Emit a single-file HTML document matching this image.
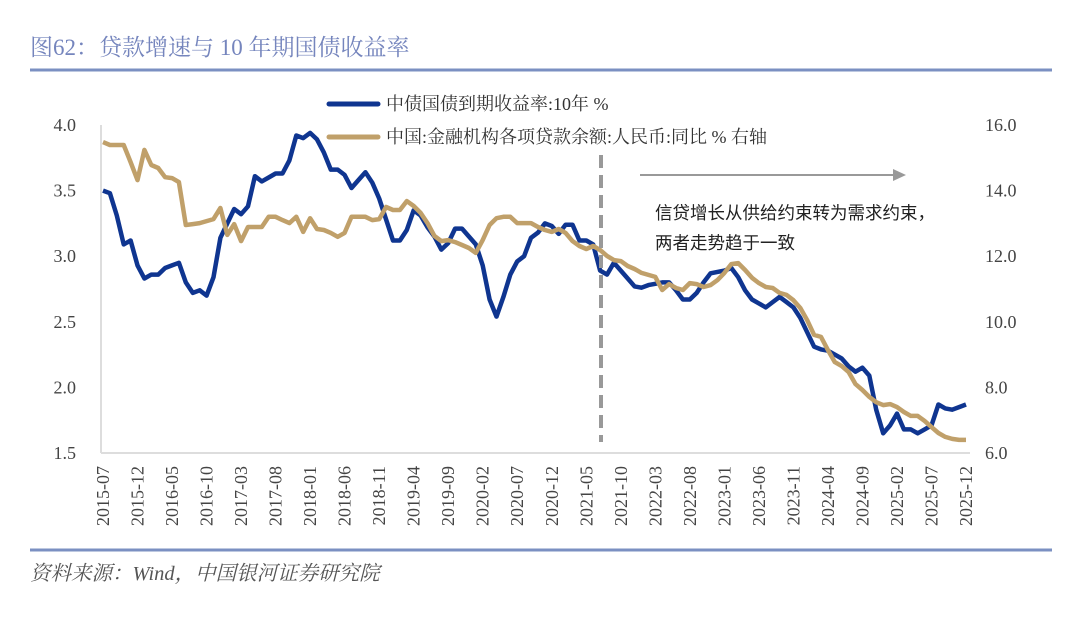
<!DOCTYPE html>
<html><head><meta charset="utf-8">
<style>
body{margin:0;background:#fff;}
svg{display:block;font-family:"Liberation Serif","Noto Serif CJK SC",serif;}
</style></head>
<body>
<svg id="chart" width="1080" height="627" viewBox="0 0 1080 627" xmlns="http://www.w3.org/2000/svg">
<rect width="1080" height="627" fill="#fff"/>
<text x="30" y="55" font-size="23" fill="#7585bd">图62：贷款增速与 10 年期国债收益率</text>
<line x1="30" y1="70" x2="1052" y2="70" stroke="#7b90c2" stroke-width="3"/>
<line x1="30" y1="550" x2="1052" y2="550" stroke="#7b90c2" stroke-width="3"/>
<text x="30" y="580" font-size="20.5" font-style="italic" fill="#555">资料来源：Wind，中国银河证券研究院</text>
<line x1="101" y1="125" x2="101" y2="453" stroke="#ddd" stroke-width="2"/>
<line x1="101" y1="453" x2="970" y2="453" stroke="#ddd" stroke-width="2"/>
<g id="ticks"></g>
<g id="series"></g>
<line x1="601" y1="155" x2="601" y2="442" stroke="#999" stroke-width="4" stroke-dasharray="13,7"/>
<line x1="640" y1="175" x2="895" y2="175" stroke="#999" stroke-width="2"/>
<polygon points="906,175 893,169 893,181" fill="#999"/>
<text x="655" y="219" font-size="17.5" fill="#222" font-family="Liberation Sans,Noto Sans CJK SC,sans-serif">信贷增长从供给约束转为需求约束，</text>
<text x="655" y="249" font-size="17.5" fill="#222" font-family="Liberation Sans,Noto Sans CJK SC,sans-serif">两者走势趋于一致</text>
<g>
<line x1="329" y1="104" x2="378" y2="104" stroke="#0f3590" stroke-width="5" stroke-linecap="round"/>
<text x="386" y="110" font-size="18" fill="#333">中债国债到期收益率:10年 %</text>
<line x1="329" y1="137" x2="378" y2="137" stroke="#c0a06a" stroke-width="5" stroke-linecap="round"/>
<text x="386" y="143" font-size="18" fill="#333">中国:金融机构各项贷款余额:人民币:同比 % 右轴</text>
</g>
</svg>
<script>
const months = [];
for (let y = 2015, m = 7; months.length < 126; ) { months.push(y + '-' + String(m).padStart(2,'0')); m++; if (m > 12) { m = 1; y++; } }
const leftTicks = [1.5, 2.0, 2.5, 3.0, 3.5, 4.0];
const rightTicks = [6.0, 8.0, 10.0, 12.0, 14.0, 16.0];
const yield10y = [3.50,3.48,3.31,3.09,3.12,2.93,2.83,2.86,2.86,2.91,2.93,2.95,2.80,2.72,2.74,2.70,2.84,3.14,3.25,3.36,3.32,3.38,3.61,3.57,3.60,3.63,3.63,3.73,3.92,3.90,3.94,3.89,3.79,3.66,3.66,3.62,3.52,3.58,3.64,3.56,3.44,3.28,3.12,3.12,3.20,3.35,3.31,3.22,3.15,3.05,3.10,3.21,3.21,3.15,3.09,2.93,2.67,2.54,2.69,2.86,2.96,3.00,3.14,3.18,3.25,3.23,3.17,3.24,3.24,3.12,3.12,3.09,2.89,2.86,2.95,2.89,2.83,2.77,2.76,2.78,2.79,2.80,2.80,2.74,2.67,2.67,2.72,2.80,2.87,2.88,2.89,2.91,2.84,2.74,2.67,2.64,2.61,2.65,2.69,2.65,2.61,2.53,2.42,2.31,2.29,2.28,2.25,2.22,2.16,2.12,2.15,2.09,1.83,1.65,1.71,1.80,1.68,1.68,1.65,1.68,1.71,1.87,1.84,1.83,1.85,1.87];
const loanGrowth = [15.48,15.39,15.39,15.39,14.87,14.32,15.24,14.78,14.69,14.41,14.38,14.26,12.95,12.98,13.01,13.07,13.13,13.47,12.65,12.98,12.46,12.89,12.89,12.89,13.20,13.20,13.10,13.01,13.20,12.74,13.16,12.83,12.80,12.71,12.59,12.71,13.20,13.20,13.20,13.10,13.13,13.50,13.41,13.41,13.68,13.53,13.32,13.01,12.62,12.46,12.49,12.43,12.34,12.25,12.10,12.49,12.95,13.16,13.20,13.20,13.01,13.01,13.01,12.89,12.80,12.74,12.83,12.71,12.46,12.31,12.22,12.31,12.19,12.01,11.88,11.85,11.70,11.61,11.49,11.43,11.37,10.97,11.15,11.03,10.97,11.18,11.15,11.06,11.12,11.27,11.49,11.76,11.79,11.58,11.34,11.18,11.06,11.03,10.88,10.82,10.66,10.42,10.05,9.60,9.54,9.14,8.77,8.65,8.47,8.10,7.92,7.71,7.55,7.46,7.49,7.40,7.25,7.13,7.13,6.98,6.79,6.61,6.49,6.43,6.40,6.40];

const NS = 'http://www.w3.org/2000/svg';
const X0 = 103, X1 = 966, YT = 125, YB = 453;
function xScale(i){ return X0 + (X1 - X0) * i / (months.length - 1); }
function yLeft(v){ return YB - (v - 1.5) / 2.5 * (YB - YT); }
function yRight(v){ return YB - (v - 6) / 10 * (YB - YT); }
const ticks = document.getElementById('ticks');
leftTicks.forEach(v => {
  const t = document.createElementNS(NS,'text');
  t.setAttribute('x', 76); t.setAttribute('y', yLeft(v) + 6);
  t.setAttribute('text-anchor','end'); t.setAttribute('font-size','18'); t.setAttribute('fill','#444');
  t.textContent = v.toFixed(1);
  
  
  ticks.appendChild(t);
});
rightTicks.forEach(v => {
  const t = document.createElementNS(NS,'text');
  t.setAttribute('x', 985); t.setAttribute('y', yRight(v) + 6);
  t.setAttribute('font-size','18'); t.setAttribute('fill','#444');
  t.textContent = v.toFixed(1);
  
  
  ticks.appendChild(t);
});
months.forEach((m, i) => {
  if (i % 5 !== 0) return;
  const x = xScale(i) + 6;
  const t = document.createElementNS(NS,'text');
  t.setAttribute('transform', 'translate(' + x + ',466) rotate(-90)');
  t.setAttribute('text-anchor','end'); t.setAttribute('font-size','18'); t.setAttribute('fill','#444');
  t.textContent = m;
  
  
  ticks.appendChild(t);
});
const series = document.getElementById('series');
function drawLine(vals, ys, color, name){
  const p = document.createElementNS(NS,'polyline');
  p.setAttribute('points', vals.map((v,i) => xScale(i).toFixed(1) + ',' + ys(v).toFixed(1)).join(' '));
  p.setAttribute('fill','none'); p.setAttribute('stroke', color); p.setAttribute('stroke-width','4.5');
  p.setAttribute('stroke-linejoin','round');
  
  
  series.appendChild(p);
}
drawLine(yield10y, yLeft, '#0f3590', 'yield-10y-line');
drawLine(loanGrowth, yRight, '#c0a06a', 'loan-growth-line');
</script>
</body></html>
